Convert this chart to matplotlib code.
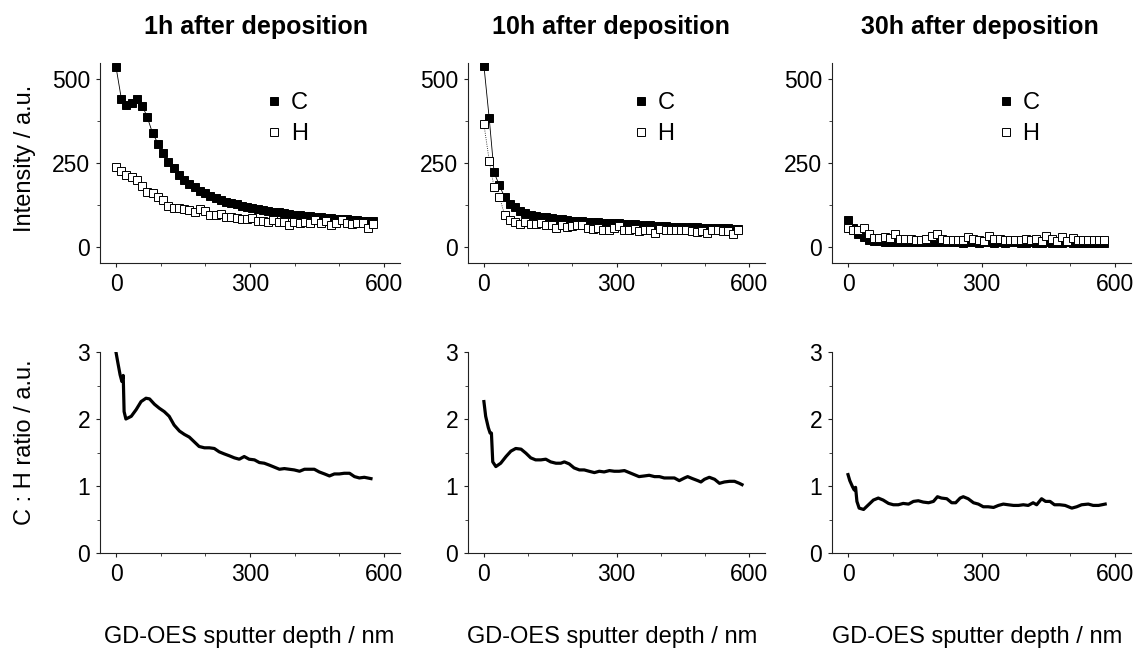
import matplotlib
matplotlib.use("Agg")
import matplotlib.pyplot as plt
from matplotlib.ticker import MultipleLocator

plt.rcParams["font.family"] = ["Liberation Sans", "DejaVu Sans"]

# ---- data --------------------------------------------------------------------
TITLES = ["1h after deposition", "10h after deposition", "30h after deposition"]

# sputter depth of the sampled intensity points (nm)
DEPTH = [0, 12, 23, 35, 47, 59, 70, 82, 94, 106, 117, 129, 141, 153, 164, 176,
         188, 200, 211, 223, 235, 247, 258, 270, 282, 294, 305, 317, 329, 341,
         352, 364, 376, 388, 399, 411, 423, 435, 446, 458, 470, 482, 493, 505,
         517, 529, 540, 552, 564, 576]

C_1H = [535, 440, 422, 430, 440, 420, 386, 338, 308, 280, 254, 234, 215, 200,
        187, 178, 168, 160, 152, 146, 140, 135, 131, 127, 123, 120, 117, 114,
        111, 108, 105, 103, 100, 98, 96, 95, 93, 91, 90, 88, 87, 85, 84, 83,
        82, 80, 79, 78, 77, 76]
H_1H = [239, 226, 214, 207, 199, 180, 165, 160, 150, 140, 123, 117, 115, 113,
        110, 105, 113, 108, 95, 95, 98, 90, 88, 85, 84, 82, 85, 78, 76, 75,
        80, 75, 75, 65, 75, 72, 75, 70, 80, 70, 77, 65, 72, 80, 70, 67, 72,
        70, 57, 67]

C_10H = [540, 383, 222, 183, 148, 128, 118, 108, 100, 96, 93, 90, 88, 86, 84,
         82, 80, 78, 77, 76, 75, 74, 73, 72, 71, 71, 70, 69, 68, 67, 66, 65,
         64, 63, 62, 61, 60, 60, 59, 59, 58, 58, 57, 57, 56, 56, 55, 55, 54, 54]
H_10H = [366, 257, 178, 150, 95, 80, 75, 68, 73, 68, 68, 70, 64, 64, 56, 64,
         59, 61, 64, 64, 56, 53, 56, 51, 49, 56, 61, 49, 51, 54, 46, 49, 49,
         41, 54, 49, 49, 51, 49, 49, 46, 43, 46, 41, 49, 49, 46, 46, 39, 49]

C_30H = [81, 55, 38, 28, 22, 19, 17, 16, 15, 15, 15, 14, 15, 14, 14, 15, 14,
         14, 14, 15, 14, 14, 13, 14, 14, 13, 14, 14, 13, 14, 13, 14, 14, 13,
         13, 14, 13, 13, 14, 13, 13, 13, 14, 13, 13, 13, 12, 13, 13, 13]
H_30H = [56, 51, 49, 56, 38, 27, 27, 29, 27, 37, 25, 25, 25, 22, 22, 25, 32,
         37, 25, 22, 22, 22, 22, 29, 25, 22, 17, 32, 25, 25, 22, 20, 22, 22,
         25, 22, 25, 17, 32, 25, 17, 29, 17, 27, 20, 20, 20, 22, 20, 20]

# C : H ratio traces
R1_DEPTH = [0, 4, 9, 13, 16, 18, 22, 34, 45, 56, 67, 75, 86, 97, 108, 119, 130,
            142, 153, 164, 175, 186, 198, 209, 220, 231, 242, 254, 265, 276,
            287, 298, 310, 321, 332, 344, 355, 366, 377, 388, 399, 411, 422,
            433, 444, 455, 467, 478, 489, 500, 511, 523, 534, 545, 556, 571]
R1 = [2.99, 2.84, 2.66, 2.56, 2.65, 2.11, 2.00, 2.04, 2.14, 2.26, 2.31, 2.30,
      2.22, 2.16, 2.11, 2.04, 1.91, 1.82, 1.77, 1.73, 1.66, 1.59, 1.57, 1.57,
      1.56, 1.51, 1.48, 1.45, 1.42, 1.40, 1.44, 1.40, 1.39, 1.35, 1.34, 1.31,
      1.28, 1.25, 1.26, 1.25, 1.24, 1.22, 1.25, 1.25, 1.25, 1.21, 1.18, 1.15,
      1.18, 1.18, 1.19, 1.19, 1.14, 1.12, 1.13, 1.11]

R2_DEPTH = [0, 4, 10, 14, 17, 20, 27, 38, 50, 61, 72, 84, 95, 106, 117, 129,
            140, 151, 163, 174, 182, 193, 204, 216, 227, 238, 250, 261, 272,
            284, 295, 306, 318, 329, 340, 351, 363, 374, 386, 397, 408, 420,
            431, 442, 454, 461, 472, 484, 491, 499, 510, 522, 533, 544, 556,
            567, 578, 584]
R2 = [2.26, 2.04, 1.87, 1.79, 1.79, 1.36, 1.29, 1.34, 1.44, 1.52, 1.56, 1.55,
      1.49, 1.42, 1.39, 1.39, 1.40, 1.36, 1.34, 1.34, 1.36, 1.33, 1.27, 1.24,
      1.24, 1.22, 1.20, 1.22, 1.21, 1.23, 1.22, 1.22, 1.23, 1.20, 1.17, 1.14,
      1.15, 1.16, 1.14, 1.14, 1.12, 1.12, 1.12, 1.08, 1.12, 1.14, 1.11, 1.08,
      1.06, 1.10, 1.13, 1.10, 1.04, 1.06, 1.07, 1.07, 1.04, 1.02]

R3_DEPTH = [0, 4, 10, 14, 17, 20, 25, 35, 46, 57, 68, 79, 91, 102, 113, 124,
            136, 147, 158, 169, 181, 192, 201, 210, 222, 233, 242, 252, 259,
            270, 282, 293, 304, 315, 327, 338, 349, 360, 372, 383, 394, 405,
            416, 424, 435, 444, 454, 464, 476, 488, 503, 514, 525, 540, 551,
            563, 578]
R3 = [1.17, 1.08, 0.99, 0.94, 0.98, 0.77, 0.67, 0.65, 0.72, 0.79, 0.82, 0.79,
      0.74, 0.72, 0.72, 0.74, 0.73, 0.77, 0.78, 0.76, 0.75, 0.77, 0.84, 0.82,
      0.81, 0.75, 0.75, 0.82, 0.84, 0.81, 0.75, 0.73, 0.69, 0.69, 0.68, 0.71,
      0.73, 0.72, 0.71, 0.71, 0.72, 0.71, 0.75, 0.72, 0.81, 0.77, 0.77, 0.72,
      0.72, 0.71, 0.67, 0.69, 0.72, 0.73, 0.71, 0.71, 0.73]

C_SERIES = [C_1H, C_10H, C_30H]
H_SERIES = [H_1H, H_10H, H_30H]
RATIO_DEPTH = [R1_DEPTH, R2_DEPTH, R3_DEPTH]
RATIOS = [R1, R2, R3]

# ---- layout (pixel boxes of the reference) ------------------------------------
W, H = 1139, 648
fig = plt.figure(figsize=(W / 100, H / 100), dpi=100)

LEFT_PX = [100, 468, 832]
WIDTH_PX = [300, 297, 299]
TITLE_X = [256, 611, 980]
XLABEL_X = [249, 612, 977]


def px_axes(x0, y_top, w, y_bot):
    return fig.add_axes([x0 / W, 1 - y_bot / H, w / W, (y_bot - y_top) / H])


def style(ax):
    for s in ("top", "right"):
        ax.spines[s].set_visible(False)
    for s in ("left", "bottom"):
        ax.spines[s].set_linewidth(0.8)
        ax.spines[s].set_color("#222222")
    ax.tick_params(which="major", direction="out", length=3, width=0.8,
                   labelsize=16.5, pad=4, color="#222222")
    ax.tick_params(which="minor", direction="out", length=2, width=0.7,
                   color="#444444")
    ax.set_xlim(-36, 636)
    ax.xaxis.set_major_locator(MultipleLocator(300))
    ax.xaxis.set_minor_locator(MultipleLocator(100))


for i in range(3):
    # intensity profiles
    ax = px_axes(LEFT_PX[i], 63, WIDTH_PX[i], 263)
    style(ax)
    ax.plot(DEPTH, C_SERIES[i], "-", color="black", lw=0.6)
    ax.plot(DEPTH, H_SERIES[i], ":", color="black", lw=0.6)
    ax.plot(DEPTH, C_SERIES[i], ls="none", marker="s", ms=5.8, mfc="black",
            mec="black", mew=0.7, label="C")
    ax.plot(DEPTH, H_SERIES[i], ls="none", marker="s", ms=5.8, mfc="white",
            mec="black", mew=0.7, label="H")
    ax.set_ylim(-48, 548)
    ax.yaxis.set_major_locator(MultipleLocator(250))
    ax.yaxis.set_minor_locator(MultipleLocator(125))
    ax.legend(loc="upper left", bbox_to_anchor=(0.55, 0.855), frameon=False,
              fontsize=17, handlelength=0.8, handletextpad=0.3,
              labelspacing=0.38, borderpad=0, borderaxespad=0, numpoints=1,
              markerscale=0.9)

    # C : H ratio
    ax2 = px_axes(LEFT_PX[i], 352, WIDTH_PX[i], 553)
    style(ax2)
    ax2.plot(RATIO_DEPTH[i], RATIOS[i], "-", color="black", lw=2.3,
             solid_joinstyle="round")
    ax2.set_ylim(0, 3)
    ax2.yaxis.set_major_locator(MultipleLocator(1))
    ax2.yaxis.set_minor_locator(MultipleLocator(0.5))

    fig.text(TITLE_X[i] / W, 1 - 27 / H, TITLES[i], ha="center", va="center",
             fontsize=18, fontweight="bold")
    fig.text(XLABEL_X[i] / W, 1 - 637 / H, "GD-OES sputter depth / nm",
             ha="center", va="center", fontsize=17)

fig.text(25 / W, 1 - 158 / H, "Intensity / a.u.", rotation=90,
         ha="center", va="center", fontsize=17)
fig.text(25 / W, 1 - 442 / H, "C : H ratio / a.u.", rotation=90,
         ha="center", va="center", fontsize=17)

fig.savefig("out.png", dpi=100)
